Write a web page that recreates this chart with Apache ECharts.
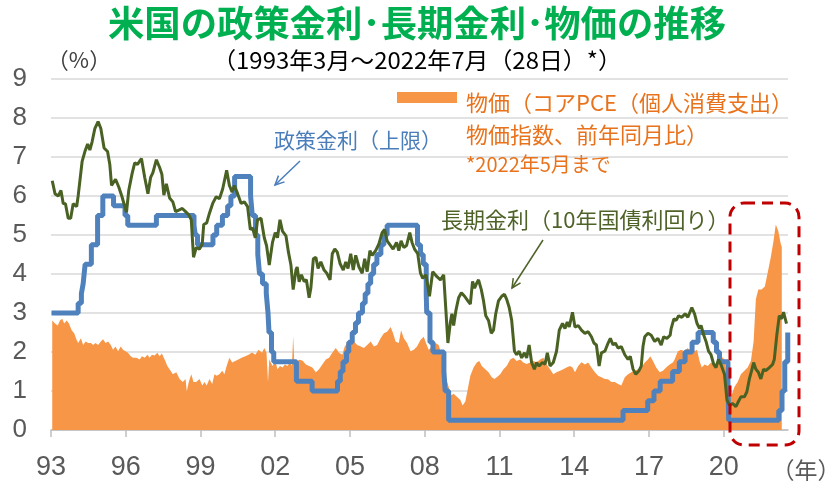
<!DOCTYPE html>
<html>
<head>
<meta charset="utf-8">
<script src="https://cdn.jsdelivr.net/npm/echarts@6/dist/echarts.min.js"></script>
<style>
html,body{margin:0;padding:0;background:#ffffff;}
#chart{width:831px;height:481px;}
</style>
</head>
<body>
<div id="chart"></div>
<script>
// ---------- data (dates are decimal years) ----------
const AXIS_START = 1993;                 // left end of the time axis
const xTickLabels = ['93','96','99','02','05','08','11','14','17','20'];

// 政策金利（上限）: value in force from each date
const policyDates = [1993.02,1994.09,1994.22,1994.29,1994.37,1994.62,1994.87,1995.08,1995.51,1995.97,1996.08,1997.23,1998.74,1998.79,1998.88,1999.50,1999.65,1999.88,2000.09,2000.22,2000.37,2001.01,2001.08,2001.21,2001.30,2001.37,2001.49,2001.64,2001.71,2001.75,2001.85,2001.94,2002.85,2003.48,2004.50,2004.61,2004.72,2004.86,2004.95,2005.09,2005.22,2005.34,2005.50,2005.61,2005.72,2005.83,2005.95,2006.08,2006.24,2006.36,2006.49,2007.71,2007.83,2007.94,2008.06,2008.08,2008.21,2008.33,2008.77,2008.82,2008.96,2015.96,2016.95,2017.20,2017.45,2017.95,2018.22,2018.45,2018.73,2018.97,2019.58,2019.71,2019.83,2020.17,2020.20,2022.21,2022.34,2022.45,2022.57];
const policyValues = [3.00,3.25,3.50,3.75,4.25,4.75,5.50,6.00,5.75,5.50,5.25,5.50,5.25,5.00,4.75,5.00,5.25,5.50,5.75,6.00,6.50,6.00,5.50,5.00,4.50,4.00,3.75,3.50,3.00,2.50,2.00,1.75,1.25,1.00,1.25,1.50,1.75,2.00,2.25,2.50,2.75,3.00,3.25,3.50,3.75,4.00,4.25,4.50,4.75,5.00,5.25,4.75,4.50,4.25,3.50,3.00,2.25,2.00,1.50,1.00,0.25,0.50,0.75,1.00,1.25,1.50,1.75,2.00,2.25,2.50,2.25,2.00,1.75,1.25,0.25,0.50,1.00,1.75,2.50];

// 長期金利（10年国債利回り）
const yieldDates = [1993.05,1993.16,1993.29,1993.40,1993.49,1993.58,1993.69,1993.79,1993.89,1994.03,1994.09,1994.25,1994.36,1994.47,1994.56,1994.65,1994.76,1994.89,1995.00,1995.13,1995.27,1995.36,1995.43,1995.49,1995.59,1995.72,1995.85,1995.96,1996.03,1996.12,1996.25,1996.36,1996.47,1996.63,1996.76,1996.89,1997.00,1997.09,1997.23,1997.36,1997.45,1997.53,1997.63,1997.76,1997.89,1998.00,1998.13,1998.27,1998.40,1998.53,1998.63,1998.72,1998.83,1998.96,1999.07,1999.13,1999.25,1999.36,1999.49,1999.63,1999.76,1999.89,2000.05,2000.16,2000.27,2000.36,2000.49,2000.63,2000.76,2000.89,2001.00,2001.09,2001.20,2001.29,2001.43,2001.56,2001.65,2001.76,2001.89,2002.00,2002.09,2002.19,2002.29,2002.43,2002.53,2002.63,2002.72,2002.83,2002.88,2002.96,2003.05,2003.16,2003.25,2003.36,2003.43,2003.53,2003.63,2003.72,2003.83,2003.96,2004.07,2004.20,2004.29,2004.39,2004.49,2004.60,2004.73,2004.83,2004.92,2005.03,2005.13,2005.23,2005.36,2005.49,2005.59,2005.69,2005.80,2005.89,2006.03,2006.16,2006.29,2006.39,2006.49,2006.63,2006.73,2006.87,2006.96,2007.05,2007.16,2007.27,2007.40,2007.49,2007.59,2007.72,2007.83,2007.92,2008.05,2008.19,2008.32,2008.49,2008.63,2008.76,2008.85,2008.93,2009.03,2009.09,2009.16,2009.25,2009.36,2009.47,2009.60,2009.73,2009.83,2009.92,2010.00,2010.09,2010.16,2010.27,2010.36,2010.45,2010.56,2010.67,2010.76,2010.85,2010.96,2011.09,2011.20,2011.29,2011.39,2011.49,2011.60,2011.69,2011.79,2011.89,2012.00,2012.09,2012.19,2012.29,2012.40,2012.49,2012.59,2012.72,2012.83,2012.92,2013.03,2013.16,2013.29,2013.40,2013.53,2013.63,2013.72,2013.80,2013.93,2014.03,2014.16,2014.29,2014.43,2014.56,2014.69,2014.79,2014.89,2015.00,2015.09,2015.23,2015.36,2015.45,2015.56,2015.65,2015.76,2015.89,2016.03,2016.16,2016.25,2016.36,2016.47,2016.60,2016.69,2016.76,2016.83,2016.96,2017.09,2017.23,2017.36,2017.49,2017.59,2017.72,2017.85,2017.89,2018.00,2018.09,2018.19,2018.32,2018.45,2018.56,2018.72,2018.83,2018.93,2019.03,2019.09,2019.20,2019.29,2019.39,2019.49,2019.60,2019.69,2019.79,2019.89,2020.03,2020.13,2020.23,2020.36,2020.49,2020.59,2020.69,2020.83,2020.93,2021.03,2021.12,2021.20,2021.29,2021.39,2021.49,2021.60,2021.69,2021.83,2021.96,2022.03,2022.13,2022.23,2022.32,2022.40,2022.52];
const yieldValues = [6.39,6.06,6.00,6.14,5.81,5.80,5.43,5.43,5.80,5.73,6.00,6.89,7.14,7.33,7.18,7.39,7.73,7.91,7.73,7.23,7.14,6.81,6.27,6.23,6.43,6.23,5.98,5.73,5.58,6.14,6.56,6.85,6.81,6.96,6.48,6.06,6.48,6.60,6.93,6.73,6.56,6.02,6.31,5.95,5.85,5.60,5.64,5.68,5.60,5.52,5.39,4.43,4.68,4.64,4.77,5.27,5.31,5.56,5.81,5.98,5.93,6.18,6.66,6.27,6.10,6.27,6.06,5.81,5.85,5.73,5.14,5.18,4.93,5.39,5.43,4.93,4.73,4.23,4.81,5.06,4.93,5.39,5.10,4.98,4.56,4.23,3.60,4.10,4.18,3.80,3.98,3.81,3.85,3.39,3.64,4.39,4.43,4.14,4.31,4.10,4.02,3.85,4.52,4.64,4.56,4.27,4.10,4.31,4.14,4.52,4.10,4.48,4.18,4.02,4.39,4.06,4.60,4.48,4.60,4.77,5.06,5.14,4.85,4.73,4.64,4.81,4.60,4.85,4.68,4.73,5.06,4.81,4.64,4.52,4.02,3.89,3.98,3.43,4.06,3.93,3.85,3.98,3.06,2.23,2.77,2.98,2.68,3.06,3.39,3.52,3.43,3.31,3.23,3.81,3.64,3.77,3.85,3.60,3.31,2.93,2.81,2.48,2.56,2.98,3.31,3.43,3.48,3.35,3.14,2.81,2.02,1.93,2.02,1.85,1.98,1.85,2.18,1.73,1.56,1.73,1.64,1.73,1.69,1.98,1.64,1.73,2.02,2.56,2.73,2.60,2.77,2.64,3.02,2.64,2.68,2.56,2.48,2.52,2.39,2.23,2.18,1.64,1.98,2.02,2.23,2.35,2.18,2.23,2.10,2.14,1.93,1.81,1.89,1.56,1.43,1.52,1.64,2.14,2.39,2.48,2.43,2.27,2.35,2.18,2.39,2.35,2.43,2.60,2.85,2.81,2.93,2.89,2.98,2.89,3.14,2.98,2.73,2.60,2.68,2.43,2.27,2.02,1.93,1.68,1.60,1.81,1.68,1.43,0.77,0.64,0.68,0.60,0.73,0.85,0.85,0.98,1.31,1.52,1.73,1.56,1.48,1.31,1.56,1.52,1.60,1.68,1.81,2.43,2.93,2.85,3.02,2.73];

// 物価（コアPCE 前年同月比）, through May 2022
const pceDates = [1993.05,1993.16,1993.27,1993.36,1993.45,1993.53,1993.63,1993.72,1993.83,1993.93,1994.03,1994.09,1994.20,1994.29,1994.39,1994.49,1994.60,1994.69,1994.79,1994.89,1995.00,1995.09,1995.19,1995.29,1995.40,1995.49,1995.59,1995.69,1995.80,1995.89,1995.99,1996.09,1996.20,1996.29,1996.43,1996.56,1996.65,1996.76,1996.87,1996.96,1997.05,1997.16,1997.27,1997.36,1997.45,1997.56,1997.67,1997.80,1997.89,1998.03,1998.16,1998.29,1998.40,1998.45,1998.53,1998.63,1998.72,1998.83,1998.96,1999.07,1999.16,1999.25,1999.36,1999.47,1999.56,1999.65,1999.76,1999.87,1999.96,2000.05,2000.16,2000.27,2000.39,2000.52,2000.65,2000.80,2000.93,2001.07,2001.20,2001.33,2001.47,2001.56,2001.65,2001.71,2001.76,2001.89,2002.00,2002.09,2002.19,2002.29,2002.39,2002.49,2002.59,2002.67,2002.72,2002.77,2002.85,2002.96,2003.09,2003.23,2003.36,2003.49,2003.63,2003.76,2003.89,2004.03,2004.16,2004.29,2004.43,2004.56,2004.69,2004.79,2004.89,2005.03,2005.16,2005.29,2005.43,2005.56,2005.69,2005.83,2005.96,2006.09,2006.23,2006.36,2006.49,2006.63,2006.73,2006.83,2006.96,2007.05,2007.16,2007.29,2007.43,2007.56,2007.69,2007.83,2007.96,2008.05,2008.16,2008.29,2008.43,2008.56,2008.69,2008.83,2008.96,2009.07,2009.16,2009.29,2009.43,2009.52,2009.63,2009.73,2009.83,2009.96,2010.09,2010.19,2010.29,2010.43,2010.56,2010.69,2010.80,2010.89,2011.03,2011.16,2011.29,2011.43,2011.56,2011.69,2011.83,2011.96,2012.09,2012.23,2012.36,2012.49,2012.63,2012.76,2012.89,2013.03,2013.16,2013.29,2013.43,2013.56,2013.69,2013.83,2013.93,2014.03,2014.16,2014.29,2014.43,2014.56,2014.69,2014.83,2014.96,2015.09,2015.23,2015.36,2015.49,2015.63,2015.76,2015.89,2016.03,2016.16,2016.29,2016.43,2016.56,2016.69,2016.83,2016.96,2017.05,2017.16,2017.29,2017.43,2017.56,2017.69,2017.83,2017.96,2018.03,2018.16,2018.29,2018.43,2018.56,2018.69,2018.83,2018.93,2019.03,2019.12,2019.23,2019.36,2019.49,2019.63,2019.76,2019.89,2020.03,2020.13,2020.23,2020.32,2020.43,2020.56,2020.69,2020.83,2020.96,2021.09,2021.20,2021.29,2021.39,2021.52,2021.65,2021.76,2021.89,2022.00,2022.09,2022.19,2022.29,2022.33];
const pceValues = [2.81,2.73,2.68,2.81,2.85,2.73,2.81,2.73,2.56,2.48,2.31,2.23,2.35,2.18,2.27,2.23,2.23,2.18,2.23,2.18,2.27,2.33,2.23,2.27,2.18,2.06,2.14,2.02,2.14,2.06,2.02,1.98,1.89,1.85,1.85,1.81,1.89,1.85,1.93,1.85,1.93,1.91,1.98,1.89,1.96,1.81,1.64,1.52,1.43,1.48,1.31,1.23,1.31,0.99,1.23,1.43,1.23,1.23,1.31,1.14,1.23,1.14,1.31,1.18,1.43,1.39,1.43,1.52,1.43,1.64,1.85,1.73,1.77,1.81,1.85,1.89,1.93,1.99,1.93,2.06,1.98,2.10,1.98,1.23,1.81,1.64,1.77,1.56,1.64,1.60,1.68,1.64,1.73,1.64,2.41,1.64,1.75,1.80,1.78,1.68,1.64,1.60,1.48,1.56,1.68,1.81,1.85,1.98,2.10,1.98,1.93,2.14,2.23,2.18,2.27,2.18,2.14,2.10,2.18,2.27,2.14,2.18,2.35,2.48,2.52,2.64,2.48,2.27,2.23,2.56,2.35,2.23,2.02,2.06,2.14,2.31,2.39,2.23,2.06,2.14,2.23,2.18,1.89,1.39,1.10,0.89,0.93,0.85,0.77,0.63,0.73,1.06,1.39,1.60,1.73,1.77,1.64,1.56,1.48,1.35,1.31,1.35,1.43,1.56,1.64,1.81,1.85,1.77,1.81,1.73,1.69,1.73,1.77,1.73,1.81,1.85,1.68,1.56,1.43,1.48,1.52,1.56,1.60,1.64,1.60,1.48,1.64,1.74,1.68,1.73,1.60,1.48,1.39,1.35,1.31,1.30,1.23,1.23,1.18,1.14,1.35,1.43,1.48,1.52,1.56,1.60,1.73,1.81,1.89,1.77,1.60,1.48,1.52,1.60,1.68,1.73,1.81,2.02,2.06,2.02,2.10,1.98,2.02,2.06,1.77,1.60,1.68,1.64,1.73,1.68,1.77,1.89,1.81,1.10,0.77,0.90,1.10,1.23,1.43,1.52,1.60,1.77,2.27,3.35,3.60,3.60,3.68,4.02,4.43,4.85,5.27,5.10,4.77,4.70];

// ---------- chart ----------
const toXY = (dates, vals) => dates.map((d, i) => [d - AXIS_START, vals[i]]);
const tickValues = xTickLabels.map((_, i) => i * 3);

const JP = '"Noto Sans CJK JP", "Noto Sans", sans-serif';
const NUM = '"Liberation Sans", "DejaVu Sans", sans-serif';

function text(x, y, str, opt) {
  return {
    type: 'text', x: x, y: y, z: 100,
    scaleX: opt.scaleX || 1,
    style: {
      text: str, fill: opt.color, fontSize: opt.size, fontFamily: opt.family || JP,
      fontWeight: opt.weight || 'normal',
      align: opt.align || 'left', verticalAlign: 'middle',
      textAlign: opt.align || 'left', textVerticalAlign: 'middle'
    }
  };
}
function arrow(x1, y1, x2, y2, color) {
  const ang = Math.atan2(y2 - y1, x2 - x1), L = 10, A = Math.PI / 7;
  return {
    type: 'group', z: 100, children: [
      { type: 'line', z: 100, shape: { x1: x1, y1: y1, x2: x2, y2: y2 }, style: { stroke: color, lineWidth: 1.5 } },
      { type: 'polyline', z: 100, shape: { points: [
          [x2 - L * Math.cos(ang - A), y2 - L * Math.sin(ang - A)], [x2, y2],
          [x2 - L * Math.cos(ang + A), y2 - L * Math.sin(ang + A)]] },
        style: { stroke: color, lineWidth: 1.5, fill: null } }
    ]
  };
}

const chart = echarts.init(document.getElementById('chart'), null, { renderer: 'canvas' });
chart.setOption({
  animation: false,
  backgroundColor: '#ffffff',
  grid: { left: 51, right: 43, top: 79, bottom: 42, containLabel: false },
  xAxis: {
    type: 'value', min: 0, max: 29.58, interval: 3,
    axisLine: { show: true, lineStyle: { color: '#bfbfbf', width: 1.5 } },
    axisTick: { show: true, length: 7, customValues: tickValues, lineStyle: { color: '#bfbfbf', width: 1.5 } },
    axisLabel: {
      customValues: tickValues,
      formatter: v => xTickLabels[Math.round(v / 3)] || '',
      margin: 24, fontSize: 27, color: '#595959', fontFamily: NUM
    },
    splitLine: { show: false }
  },
  yAxis: {
    type: 'value', min: 0, max: 9, interval: 1,
    axisLine: { show: false }, axisTick: { show: false },
    axisLabel: { fontSize: 26, color: '#595959', margin: 24, fontFamily: NUM },
    splitLine: { lineStyle: { color: '#d9d9d9', width: 1.5 } }
  },
  series: [
    { name: '物価', type: 'line', data: toXY(pceDates, pceValues), symbol: 'none', z: 1,
      lineStyle: { width: 0, opacity: 0 }, areaStyle: { color: '#F79646', opacity: 1 } },
    { name: '政策金利（上限）', type: 'line', step: 'end', data: toXY(policyDates, policyValues), symbol: 'none', z: 2,
      lineStyle: { color: '#4F81BD', width: 5 } },
    { name: '長期金利（10年国債利回り）', type: 'line', data: toXY(yieldDates, yieldValues), symbol: 'none', z: 3,
      lineStyle: { color: '#4A6124', width: 3 } }
  ],
  graphic: { elements: [
    text(417, 23, '米国の政策金利･長期金利･物価の推移', { color: '#00B050', size: 36, weight: 'bold', align: 'center', scaleX: 1.01 }),
    text(417, 60, '（1993年3月～2022年7月（28日）*）', { color: '#000000', size: 23, align: 'center', scaleX: 1.04 }),
    text(79, 60, '（%）', { color: '#404040', size: 22, align: 'center' }),
    text(806, 470, '（年）', { color: '#595959', size: 23, align: 'center' }),
    text(274, 140, '政策金利（上限）', { color: '#4A7EBB', size: 21 }),
    arrow(300, 161, 275, 185, '#4A7EBB'),
    text(441, 220, '長期金利（10年国債利回り）', { color: '#4F6228', size: 22 }),
    arrow(543, 240, 512, 288, '#4F6228'),
    { type: 'rect', z: 100, shape: { x: 397, y: 92, width: 60, height: 11 }, style: { fill: '#F79646' } },
    text(466, 103, '物価（コアPCE（個人消費支出）', { color: '#E8731C', size: 22 }),
    text(466, 135, '物価指数、前年同月比）', { color: '#E8731C', size: 22 }),
    text(466, 164, '*2022年5月まで', { color: '#E8731C', size: 20 }),
    { type: 'rect', z: 100, shape: { x: 730, y: 203, width: 69, height: 242, r: 14 },
      style: { fill: null, stroke: '#C00000', lineWidth: 3, lineDash: [11, 7] } }
  ] }
});
</script>
</body>
</html>
